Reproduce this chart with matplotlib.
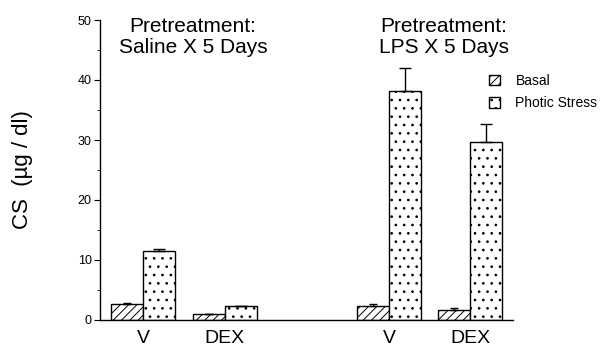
import numpy as np
import matplotlib.pyplot as plt

plt.rcParams['font.family'] = ['Liberation Sans', 'DejaVu Sans']
plt.rcParams['hatch.linewidth'] = 0.7

groups = ["V", "DEX", "V", "DEX"]
basal = [2.7, 1.0, 2.4, 1.7]
basal_err = [0.15, 0.05, 0.35, 0.35]
photic = [11.5, 2.3, 38.2, 29.6]
photic_err = [0.4, 0.05, 3.8, 3.0]
panels = ["Pretreatment:\nSaline X 5 Days", "Pretreatment:\nLPS X 5 Days"]

centers = np.array([1.35, 3.9, 9.03, 11.56])
w = 1.0

fig = plt.figure(figsize=(6.13, 3.49), dpi=100)
ax = fig.add_axes([100 / 613, 29 / 349, 413 / 613, 300 / 349])

ax.bar(centers - w / 2, basal, w, color="white", edgecolor="black",
       hatch="////", linewidth=1.0, label="Basal",
       yerr=[np.zeros(4), basal_err], capsize=3,
       error_kw=dict(ecolor="black", elinewidth=1.0, capthick=1.0))
ax.bar(centers + w / 2, photic, w, color="white", edgecolor="black",
       hatch="..", linewidth=1.0, label="Photic Stress",
       yerr=[np.zeros(4), photic_err], capsize=4,
       error_kw=dict(ecolor="black", elinewidth=1.0, capthick=1.0))

ax.set_xlim(0, 12.9)
ax.set_ylim(0, 50)
ax.set_yticks([0, 10, 20, 30, 40, 50])
ax.set_yticks([5, 15, 25, 35, 45], minor=True)
ax.tick_params(axis="y", labelsize=9, length=4, width=0.8, pad=2)
ax.tick_params(axis="y", which="minor", length=2, width=0.6)
ax.set_xticks(centers)
ax.set_xticklabels(groups, fontsize=14)
ax.tick_params(axis="x", length=0, pad=7)

ax.spines["top"].set_visible(False)
ax.spines["right"].set_visible(False)
ax.spines["left"].set_linewidth(1.0)
ax.spines["bottom"].set_linewidth(1.0)

ax.set_ylabel("CS  (\u00b5g / dl)", fontsize=16)
ax.yaxis.set_label_coords(-67 / 413, 0.5)

ax.text(2.9, 50.5, panels[0], ha="center", va="top", fontsize=15,
        linespacing=1.15)
ax.text(10.75, 50.5, panels[1], ha="center", va="top", fontsize=15,
        linespacing=1.15)

ax.legend(loc="upper left", bbox_to_anchor=(489 / 613, 1 - 74 / 349),
          bbox_transform=fig.transFigure, frameon=False,
          fontsize=10, handlelength=0.8, handleheight=0.8,
          handletextpad=1.1, labelspacing=0.6, borderpad=0,
          borderaxespad=0)

fig.savefig("out.png", dpi=100)
